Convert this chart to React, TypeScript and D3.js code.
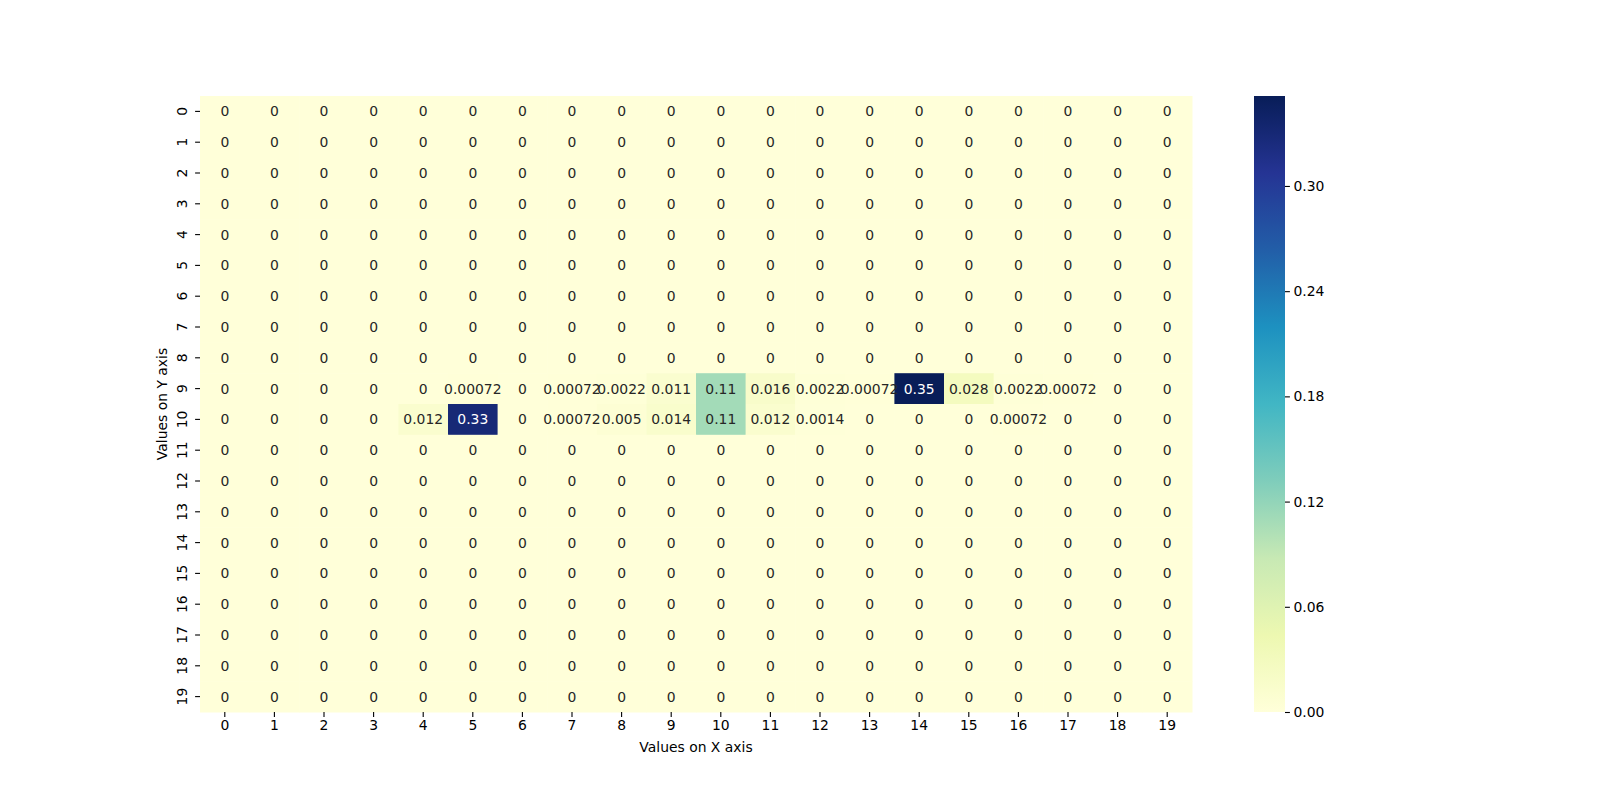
import { useRef, useEffect } from 'react';
import * as d3 from 'd3';

// grid labels 0..19 on both axes
const xLabels = ['0', '1', '2', '3', '4', '5', '6', '7', '8', '9', '10', '11', '12', '13', '14', '15', '16', '17', '18', '19'];
const yLabels = ['0', '1', '2', '3', '4', '5', '6', '7', '8', '9', '10', '11', '12', '13', '14', '15', '16', '17', '18', '19'];

// only rows 9 and 10 hold non-zero values
const row9 = [0, 0, 0, 0, 0, 0.00072, 0, 0.00072, 0.0022, 0.011, 0.11, 0.016, 0.0022, 0.00072, 0.3513, 0.028, 0.0022, 0.00072, 0, 0];
const row10 = [0, 0, 0, 0, 0.012, 0.329, 0, 0.00072, 0.005, 0.014, 0.11, 0.012, 0.0014, 0, 0, 0, 0.00072, 0, 0, 0];
const zeroRow = xLabels.map(() => 0);

const colorbarTicks = [0, 0.06, 0.12, 0.18, 0.24, 0.3];

// colorbrewer YlGnBu (9 classes), linearly interpolated as in matplotlib
const ylGnBu = ['#ffffd9', '#edf8b1', '#c7e9b4', '#7fcdbb', '#41b6c4', '#1d91c0', '#225ea8', '#253494', '#081d58'];

export default function App() {
  const svgRef = useRef<SVGSVGElement>(null);

  useEffect(() => {
    if (!svgRef.current) return;
    const svg = d3.select(svgRef.current);
    svg.selectAll('*').remove();

    const width = 1600;
    const height = 800;
    const margin = { left: 200, top: 96, right: 1192, bottom: 712 };
    const font = 'DejaVu Sans, sans-serif';

    const rows = yLabels.map((_, i) => (i === 9 ? row9 : i === 10 ? row10 : zeroRow));
    const cells = rows.flatMap((r, i) => r.map((v, j) => ({ row: i, col: j, value: v })));

    const vmax = d3.max(cells, d => d.value) as number;

    const x = d3.scaleBand().domain(xLabels).range([margin.left, margin.right]);
    const y = d3.scaleBand().domain(yLabels).range([margin.top, margin.bottom]);

    const color = d3.scaleLinear<string>()
      .domain(ylGnBu.map((_, i) => (vmax * i) / (ylGnBu.length - 1)))
      .range(ylGnBu)
      .interpolate(d3.interpolateRgb)
      .clamp(true);

    svg.attr('width', width).attr('height', height);
    svg.append('rect').attr('width', width).attr('height', height).attr('fill', '#fff');

    const g = svg.append('g');

    g.selectAll('rect.cell')
      .data(cells)
      .join('rect')
      .attr('class', 'cell')
      .attr('x', d => x(xLabels[d.col]) as number)
      .attr('y', d => y(yLabels[d.row]) as number)
      .attr('width', x.bandwidth() + 0.5)
      .attr('height', y.bandwidth() + 0.5)
      .attr('fill', d => color(d.value));

    const lum = (c: string) => {
      const rgb = d3.rgb(c);
      const f = (v: number) => {
        v /= 255;
        return v <= 0.03928 ? v / 12.92 : Math.pow((v + 0.055) / 1.055, 2.4);
      };
      return 0.2126 * f(rgb.r) + 0.7152 * f(rgb.g) + 0.0722 * f(rgb.b);
    };

    const fmt = (v: number) => {
      if (v === 0) return '0';
      return String(Number(v.toPrecision(2)));
    };

    g.selectAll('text.annot')
      .data(cells)
      .join('text')
      .attr('class', 'annot')
      .attr('x', d => (x(xLabels[d.col]) as number) + x.bandwidth() / 2)
      .attr('y', d => (y(yLabels[d.row]) as number) + y.bandwidth() / 2)
      .attr('dy', '0.36em')
      .attr('text-anchor', 'middle')
      .attr('font-family', font)
      .attr('font-size', '13.9px')
      .attr('fill', d => (lum(color(d.value)) > 0.408 ? '#262626' : '#ffffff'))
      .text(d => fmt(d.value));

    // x axis
    const xAxis = g.append('g')
      .attr('transform', `translate(0,${margin.bottom})`)
      .call(d3.axisBottom(x).tickSize(4.9).tickPadding(3.5));
    xAxis.select('.domain').remove();
    xAxis.selectAll('line').attr('stroke', '#000').attr('stroke-width', 1.1);
    xAxis.selectAll('text')
      .attr('font-family', font)
      .attr('font-size', '13.9px')
      .attr('fill', '#000');

    // y axis, labels rotated like seaborn
    const yAxis = g.append('g')
      .attr('transform', `translate(${margin.left},0)`)
      .call(d3.axisLeft(y).tickSize(4.9).tickPadding(3.5));
    yAxis.select('.domain').remove();
    yAxis.selectAll('line').attr('stroke', '#000').attr('stroke-width', 1.1);
    yAxis.selectAll('text')
      .attr('font-family', font)
      .attr('font-size', '13.9px')
      .attr('fill', '#000')
      .attr('x', -17)
      .attr('dy', 0)
      .attr('text-anchor', 'middle')
      .attr('dominant-baseline', 'middle')
      .attr('transform', 'rotate(-90)')
      .each(function () {
        const t = d3.select(this);
        t.attr('transform', `rotate(-90,-17,0)`).attr('x', -17).attr('y', 0);
      });

    g.append('text')
      .attr('x', (margin.left + margin.right) / 2)
      .attr('y', 752)
      .attr('text-anchor', 'middle')
      .attr('font-family', font)
      .attr('font-size', '13.9px')
      .attr('fill', '#000')
      .text('Values on X axis');

    g.append('text')
      .attr('transform', `translate(167,${(margin.top + margin.bottom) / 2}) rotate(-90)`)
      .attr('text-anchor', 'middle')
      .attr('font-family', font)
      .attr('font-size', '13.9px')
      .attr('fill', '#000')
      .text('Values on Y axis');

    // colorbar
    const cbX = 1254;
    const cbW = 31;
    const cb = d3.scaleLinear().domain([0, vmax]).range([margin.bottom, margin.top]);

    const defs = svg.append('defs');
    const grad = defs.append('linearGradient')
      .attr('id', 'cbgrad')
      .attr('x1', 0).attr('y1', 1).attr('x2', 0).attr('y2', 0);
    grad.selectAll('stop')
      .data(ylGnBu)
      .join('stop')
      .attr('offset', (_, i) => i / (ylGnBu.length - 1))
      .attr('stop-color', d => d);

    g.append('rect')
      .attr('x', cbX)
      .attr('y', margin.top)
      .attr('width', cbW)
      .attr('height', margin.bottom - margin.top)
      .attr('fill', 'url(#cbgrad)');

    const cbAxis = g.append('g')
      .attr('transform', `translate(${cbX + cbW},0)`)
      .call(d3.axisRight(cb).tickValues(colorbarTicks).tickFormat(d3.format('.2f')).tickSize(4.9).tickPadding(3.5));
    cbAxis.select('.domain').remove();
    cbAxis.selectAll('line').attr('stroke', '#000').attr('stroke-width', 1.1);
    cbAxis.selectAll('text')
      .attr('font-family', font)
      .attr('font-size', '13.9px')
      .attr('fill', '#000');
  }, []);

  return (
    <div style={{ position: 'absolute', left: 0, top: 0, width: 1600, height: 800 }}>
      <svg ref={svgRef} width={1600} height={800} style={{ display: 'block' }} />
    </div>
  );
}
